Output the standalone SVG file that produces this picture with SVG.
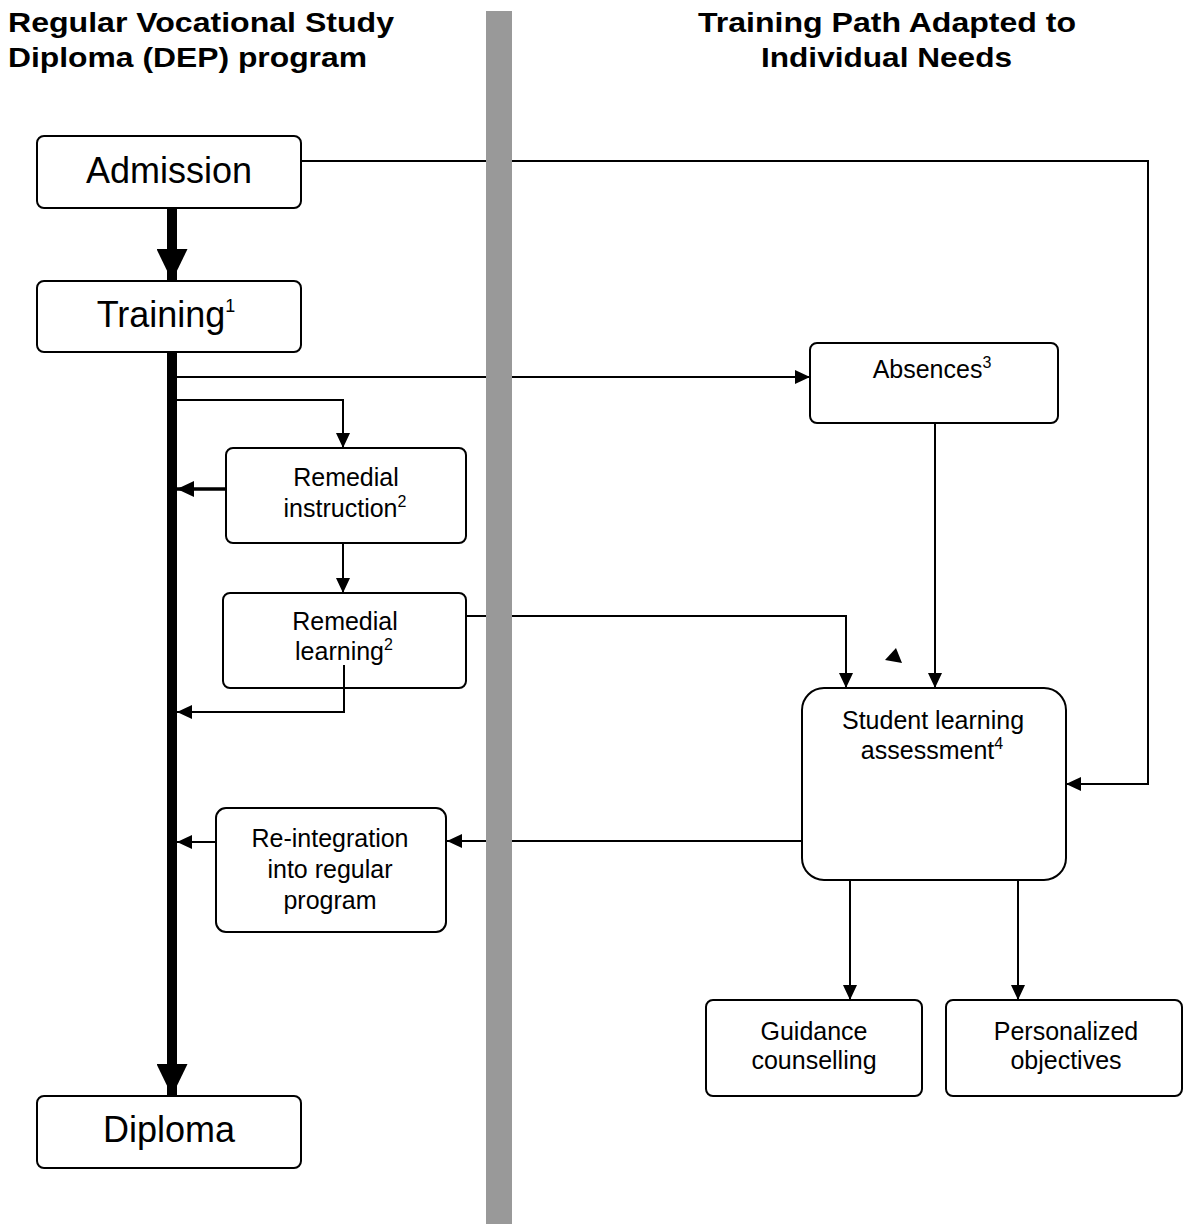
<svg xmlns="http://www.w3.org/2000/svg" width="1183" height="1224" viewBox="0 0 1183 1224">
<style>
.box{fill:#fff;stroke:#000;stroke-width:2}
.big{font-family:"Liberation Sans",Arial,sans-serif;font-size:36px;fill:#000;text-anchor:middle}
.sm{font-family:"Liberation Sans",Arial,sans-serif;font-size:25px;fill:#000;text-anchor:middle}
.sup{font-size:16px}
.supb{font-size:18px}
.hd{font-family:"Liberation Sans",Arial,sans-serif;font-size:28px;font-weight:bold;fill:#000}
.ln{fill:none;stroke:#000;stroke-width:2;marker-end:url(#arr)}
.thick{fill:none;stroke:#000;stroke-width:10;marker-end:url(#big)}
</style>
<defs>
<marker id="arr" viewBox="0 0 15 14" refX="15" refY="7" markerWidth="15" markerHeight="14" markerUnits="userSpaceOnUse" orient="auto"><path d="M0,0 L15,7 L0,14 z" fill="#000"/></marker>
<marker id="arr3" viewBox="0 0 17 16" refX="17" refY="8" markerWidth="17" markerHeight="16" markerUnits="userSpaceOnUse" orient="auto"><path d="M0,0 L17,8 L0,16 z" fill="#000"/></marker>
<marker id="big" viewBox="0 0 32 31" refX="32" refY="15.5" markerWidth="32" markerHeight="31" markerUnits="userSpaceOnUse" orient="auto"><path d="M0,0 L32,15.5 L0,31 z" fill="#000"/></marker>
</defs>
<rect width="1183" height="1224" fill="#fff"/>

<g id="headers">
<text class="hd" x="8" y="32" textLength="386" lengthAdjust="spacingAndGlyphs">Regular Vocational Study</text>
<text class="hd" x="8" y="67" textLength="359" lengthAdjust="spacingAndGlyphs">Diploma (DEP) program</text>
<text class="hd" x="698" y="32" textLength="378" lengthAdjust="spacingAndGlyphs">Training Path Adapted to</text>
<text class="hd" x="761" y="67" textLength="251" lengthAdjust="spacingAndGlyphs">Individual Needs</text>
</g>

<g id="admission"><rect class="box" x="37" y="136" width="264" height="72" rx="7"/><text class="big" x="169" y="183">Admission</text></g>
<g id="training"><rect class="box" x="37" y="281" width="264" height="71" rx="7"/><text class="big" x="166" y="327">Training<tspan class="supb" dy="-15">1</tspan></text></g>
<g id="diploma"><rect class="box" x="37" y="1096" width="264" height="72" rx="7"/><text class="big" x="169" y="1142">Diploma</text></g>
<g id="remedial-instruction"><rect class="box" x="226" y="448" width="240" height="95" rx="7"/><text class="sm" x="346" y="486">Remedial</text><text class="sm" x="345" y="517">instruction<tspan class="sup" dy="-10">2</tspan></text></g>
<g id="remedial-learning"><rect class="box" x="223" y="593" width="243" height="95" rx="7"/><text class="sm" x="345" y="630">Remedial</text><text class="sm" x="344" y="660">learning<tspan class="sup" dy="-10">2</tspan></text></g>
<g id="absences"><rect class="box" x="810" y="343" width="248" height="80" rx="7"/><text class="sm" x="932" y="378">Absences<tspan class="sup" dy="-10">3</tspan></text></g>
<g id="assessment"><rect class="box" x="802" y="688" width="264" height="192" rx="22"/><text class="sm" x="933" y="729">Student learning</text><text class="sm" x="932" y="759">assessment<tspan class="sup" dy="-10">4</tspan></text></g>
<g id="reintegration"><rect class="box" x="216" y="808" width="230" height="124" rx="10"/><text class="sm" x="330" y="847">Re-integration</text><text class="sm" x="330" y="878">into regular</text><text class="sm" x="330" y="909">program</text></g>
<g id="guidance"><rect class="box" x="706" y="1000" width="216" height="96" rx="7"/><text class="sm" x="814" y="1040">Guidance</text><text class="sm" x="814" y="1069">counselling</text></g>
<g id="personalized"><rect class="box" x="946" y="1000" width="236" height="96" rx="7"/><text class="sm" x="1066" y="1040">Personalized</text><text class="sm" x="1066" y="1069">objectives</text></g>

<g id="connectors">
<line class="thick" x1="172" y1="208" x2="172" y2="281"/>
<line class="thick" x1="172" y1="352" x2="172" y2="1096"/>
<polyline class="ln" points="177,377 810,377"/>
<polyline class="ln" points="177,400 343,400 343,448"/>
<polyline fill="none" stroke="#000" stroke-width="3.5" marker-end="url(#arr3)" points="226,489 177,489"/>
<polyline class="ln" points="343,543 343,593"/>
<polyline class="ln" points="466,616 846,616 846,688"/>
<polyline class="ln" points="344,665 344,712 177,712"/>
<polyline class="ln" points="935,423 935,688"/>
<polyline class="ln" points="301,161 1148,161 1148,784 1066,784"/>
<polyline class="ln" points="802,841 447,841"/>
<polyline class="ln" points="216,842 177,842"/>
<polyline class="ln" points="850,880 850,1000"/>
<polyline class="ln" points="1018,880 1018,1000"/>
<polygon points="896,648 885,660 902,663" fill="#000"/>
</g>

<rect id="divider" x="486" y="11" width="26" height="1213" fill="#999"/>
</svg>
